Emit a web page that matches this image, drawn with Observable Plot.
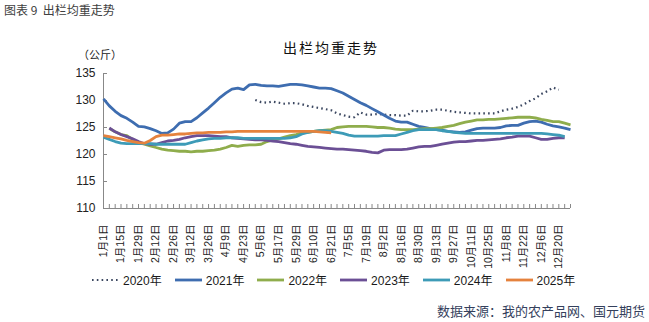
<!DOCTYPE html>
<html><head><meta charset="utf-8">
<script src="https://cdn.jsdelivr.net/npm/d3@7"></script>
<script src="https://cdn.jsdelivr.net/npm/@observablehq/plot@0.6"></script>
<style>
body{margin:0;background:#fff;}
#wrap{position:relative;width:649px;height:322px;overflow:hidden;font-family:"Liberation Sans","Noto Sans CJK SC",sans-serif;}
.abs{position:absolute;white-space:nowrap;line-height:1;}
#chart{position:absolute;left:0;top:0;}
#legend{position:absolute;left:92px;top:271px;display:flex;align-items:center;gap:13px;font-size:12px;color:#1a1a1a;}
.item{display:flex;align-items:center;gap:4px;}
</style></head><body><div id="wrap">
<div id="chart"></div>
<div class="abs" style="left:4px;top:4px;font-size:12px;color:#404040;font-family:'Noto Sans CJK SC',sans-serif;">图表 9&nbsp; 出栏均重走势</div>
<div class="abs" style="left:283px;top:40px;font-size:14px;letter-spacing:2px;color:#111;font-family:'Noto Sans CJK SC',sans-serif;">出栏均重走势</div>
<div class="abs" style="left:78px;top:49px;font-size:11px;color:#222;font-family:'Noto Sans CJK SC',sans-serif;">（公斤）</div>
<div id="legend"></div>
<div class="abs" style="right:4px;top:304px;font-size:13px;color:#34405c;font-family:'Noto Sans CJK SC',sans-serif;">数据来源：我的农产品网、国元期货</div>
</div>
<script>
const xLabels = ["1月1日","1月15日","1月29日","2月12日","2月26日","3月12日","3月26日","4月9日","4月23日","5月6日","5月17日","5月29日","6月10日","6月21日","7月5日","7月19日","8月2日","8月16日","8月30日","9月13日","9月27日","10月11日","10月25日","11月8日","11月22日","12月6日","12月20日"];
const yTicks = [110, 115, 120, 125, 130, 135];
const seriesNames = ["2020年","2021年","2022年","2023年","2024年","2025年"];
const seriesColors = ["#3b4760","#3e6db0","#8fad4c","#6b4f95","#3d9bb7","#e5823d"];
const _ = null;

const y2020 = [_,_,_,_,_,_,_,_,_,_,_,_,_,_,_,_,_,_,_,_,_,_,_,_,_,_,
 130.1,129.7,129.6,129.8,129.6,129.4,129.5,129.5,129.3,129.0,128.8,128.6,128.4,128.2,
 127.6,127.3,127.0,126.9,127.8,127.4,127.4,127.5,127.4,127.3,127.3,127.2,127.2,128.1,128.0,128.0,128.1,128.3,128.3,128.1,
 127.9,127.8,127.7,127.6,127.6,127.6,127.6,127.6,128.0,128.3,128.5,128.8,129.3,129.9,130.4,131.2,131.7,132.4,132.0];
const y2021 = [130.3,129.0,128.0,127.2,126.7,126.0,125.2,125.1,124.8,124.4,
 123.9,124.0,124.7,125.8,126.1,126.1,126.8,127.7,128.6,129.6,
 130.6,131.4,132.1,132.3,132.0,132.9,133.0,132.8,132.7,132.7,
 132.6,132.8,133.0,133.0,132.9,132.7,132.5,132.3,132.3,132.2,
 131.8,131.4,130.8,130.2,129.6,129.1,128.5,127.9,127.3,126.7,
 126.2,126.0,126.0,125.6,125.2,125.0,124.8,124.6,124.5,124.3,
 124.2,124.1,124.2,124.5,124.8,124.9,124.9,124.9,125.0,125.3,
 125.4,125.4,125.8,126.1,126.2,126.0,125.6,125.3,125.1,124.9,124.6];
const y2022 = [_,124.8,124.2,123.7,123.5,122.8,122.2,121.9,121.6,121.3,
 121.0,120.8,120.7,120.6,120.6,120.5,120.6,120.6,120.7,120.8,
 121.0,121.3,121.7,121.5,121.7,121.8,121.8,121.9,122.4,122.7,
 122.9,123.2,123.5,123.7,124.0,124.1,124.3,124.4,124.5,124.6,
 125.0,125.1,125.2,125.2,125.2,125.2,125.1,125.0,125.0,124.9,
 124.7,124.6,124.6,124.6,124.7,124.8,124.8,124.9,125.0,125.2,
 125.4,125.7,126.0,126.2,126.4,126.4,126.5,126.5,126.6,126.7,
 126.8,126.9,126.9,126.9,126.8,126.5,126.3,126.1,126.1,125.8,125.5];
const y2023 = [_,124.9,124.2,123.7,123.3,122.9,122.4,122.0,121.9,121.9,
 122.2,122.5,122.6,122.8,123.1,123.3,123.5,123.5,123.5,123.4,
 123.3,123.3,123.1,123.0,122.9,122.8,122.7,122.7,122.6,122.5,
 122.4,122.2,122.0,121.9,121.7,121.5,121.4,121.3,121.2,121.1,
 121.0,121.0,120.9,120.8,120.7,120.6,120.4,120.3,120.8,120.9,
 120.9,120.9,121.0,121.2,121.4,121.5,121.5,121.7,121.9,122.1,
 122.3,122.4,122.4,122.5,122.6,122.6,122.7,122.8,122.9,123.1,
 123.2,123.4,123.4,123.4,123.1,122.8,122.8,123.0,123.1,123.1];
const y2024 = [123.2,122.8,122.4,122.1,122.0,122.0,122.0,122.0,122.0,121.9,
 121.9,121.9,121.9,121.9,121.9,122.2,122.5,122.7,122.9,123.0,
 123.0,123.1,123.1,123.1,123.0,123.0,123.0,123.0,123.0,123.0,
 123.0,123.0,123.1,123.3,123.8,124.1,124.3,124.4,124.4,124.3,
 124.1,123.9,123.6,123.4,123.4,123.4,123.4,123.4,123.5,123.5,
 123.5,123.8,124.1,124.4,124.6,124.6,124.6,124.6,124.4,124.3,
 124.1,124.0,123.9,123.9,123.9,123.9,123.9,123.9,123.9,123.9,
 123.9,123.9,123.9,123.9,123.9,123.9,123.8,123.7,123.6,123.3];
const y2025 = [123.5,123.3,123.1,122.9,122.6,122.4,122.2,122.1,122.6,123.3,
 123.6,123.6,123.7,123.8,123.8,123.9,124.0,124.0,124.1,124.1,
 124.1,124.2,124.2,124.3,124.3,124.3,124.3,124.3,124.3,124.3,
 124.3,124.3,124.3,124.3,124.3,124.3,124.3,124.2,124.1,124.0];

const allSeries = [y2020, y2021, y2022, y2023, y2024, y2025];
const rows = [];
allSeries.forEach((arr, s) => arr.forEach((v, i) => rows.push({s, name: seriesNames[s], i, v})));

const lineMarks = allSeries.map((arr, s) => Plot.line(rows.filter(r => r.s === s), {
  x: "i", y: "v",
  stroke: seriesColors[s],
  strokeWidth: s === 0 ? 2.2 : 2.8,
  strokeDasharray: s === 0 ? "1.6 3.2" : null,
  strokeLinecap: "butt",
  strokeLinejoin: "round"
}));

const chart = Plot.plot({
  width: 649, height: 270,
  marginLeft: 103, marginRight: 79, marginTop: 73, marginBottom: 62,
  style: {fontFamily: "'Liberation Sans','Noto Sans CJK SC',sans-serif", color: "#222", background: "transparent"},
  x: {type: "linear", domain: [0, 80], axis: null},
  y: {domain: [110, 135], axis: null},
  marks: [
    Plot.axisY({ticks: yTicks, tickSize: 0, tickPadding: 8, fontSize: 12, fill: "#222", label: null}),
    Plot.axisY({ticks: yTicks, tickSize: 4, dx: 4, tickFormat: () => "", stroke: "#888", label: null}),
    Plot.axisX({ticks: d3.range(0, 81), tickSize: 4, dy: -4, tickFormat: () => "", stroke: "#888", label: null}),
    Plot.axisX({ticks: d3.range(0, 81, 3), tickFormat: i => xLabels[i / 3], tickRotate: -90, tickSize: 0, tickPadding: 16, fontSize: 10.5, fill: "#222", label: null}),
    Plot.ruleX([0], {stroke: "#888"}),
    Plot.ruleY([110], {stroke: "#888"}),
    ...lineMarks
  ]
});
document.getElementById("chart").appendChild(chart);

const legend = document.getElementById("legend");
seriesNames.forEach((n, s) => {
  const item = document.createElement("div");
  item.className = "item";
  const dash = s === 0 ? 'stroke-dasharray="1.6 3.2"' : '';
  item.innerHTML = `<svg width="27" height="6"><line x1="0" y1="3" x2="27" y2="3" stroke="${seriesColors[s]}" stroke-width="${s === 0 ? 2.2 : 2.8}" ${dash}/></svg><span>${n}</span>`;
  legend.appendChild(item);
});
</script>
</body></html>
